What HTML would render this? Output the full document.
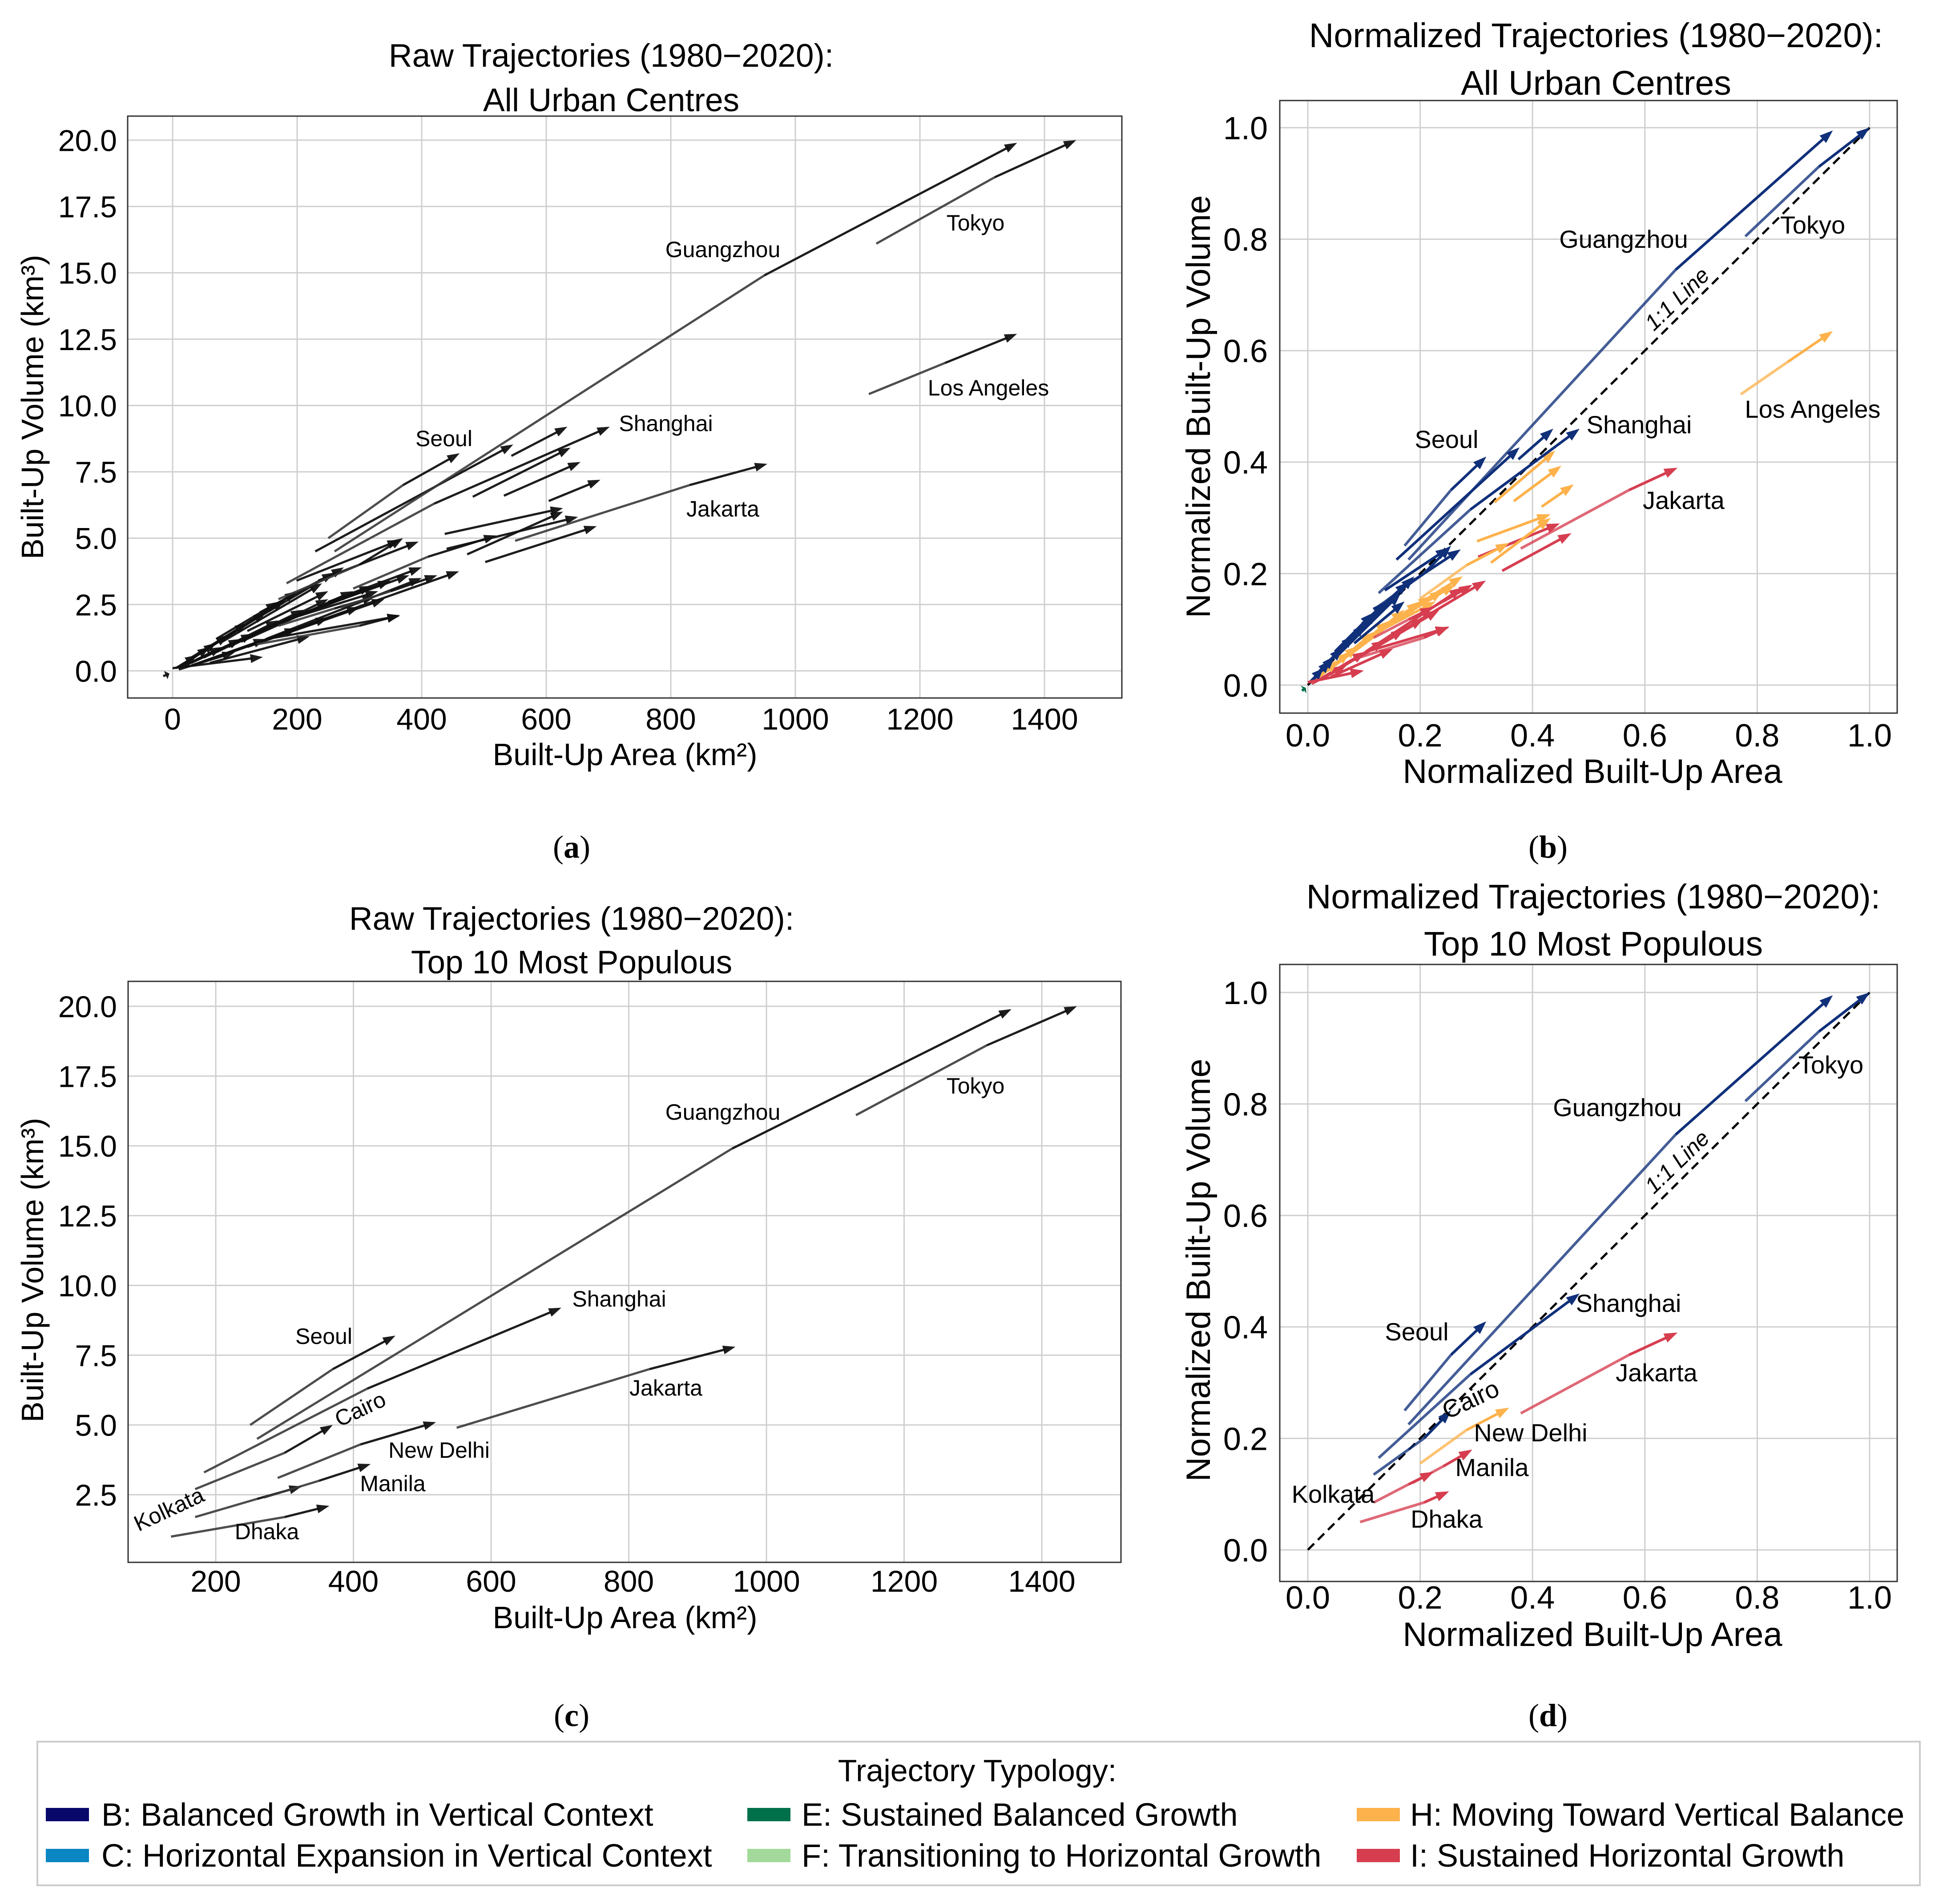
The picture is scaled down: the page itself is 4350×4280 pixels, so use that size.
<!DOCTYPE html>
<html><head><meta charset="utf-8">
<style>
html,body{margin:0;padding:0;background:#fff;}
svg{display:block;font-family:"Liberation Sans",Arial,sans-serif;}
</style></head>
<body>
<svg id="fig" width="4350" height="4280" viewBox="0 0 4350 4280" xmlns="http://www.w3.org/2000/svg">
<rect width="4350" height="4280" fill="#fff"/>
<g id="pa"></g>
<g id="pb"></g>
<g id="pc"></g>
<g id="pd"></g>
<g font-family="Liberation Serif, serif" font-size="72" text-anchor="middle">
<text x="1285" y="1928">(<tspan font-weight="bold">a</tspan>)</text>
<text x="3480" y="1928">(<tspan font-weight="bold">b</tspan>)</text>
<text x="1285" y="3880">(<tspan font-weight="bold">c</tspan>)</text>
<text x="3480" y="3880">(<tspan font-weight="bold">d</tspan>)</text>
</g>
<g>
<rect x="84" y="3915" width="4232" height="323" fill="#fff" stroke="#cccccc" stroke-width="4"/>
<text x="2197" y="4004" font-size="70" text-anchor="middle">Trajectory Typology:</text>
<g><rect x="103" y="4064" width="97" height="30" fill="#08086b"/><text x="228" y="4104" font-size="72">B: Balanced Growth in Vertical Context</text></g>
<g><rect x="103" y="4156" width="97" height="30" fill="#0a86c2"/><text x="228" y="4196" font-size="72">C: Horizontal Expansion in Vertical Context</text></g>
<g><rect x="1680" y="4064" width="97" height="30" fill="#00704a"/><text x="1802" y="4104" font-size="72">E: Sustained Balanced Growth</text></g>
<g><rect x="1680" y="4156" width="97" height="30" fill="#a3d99a"/><text x="1802" y="4196" font-size="72">F: Transitioning to Horizontal Growth</text></g>
<g><rect x="3050" y="4064" width="97" height="30" fill="#fdb24c"/><text x="3170" y="4104" font-size="72">H: Moving Toward Vertical Balance</text></g>
<g><rect x="3050" y="4156" width="97" height="30" fill="#d63e50"/><text x="3170" y="4196" font-size="72">I: Sustained Horizontal Growth</text></g>
</g>
</svg>
<script>
// ===== Data: all urban centres (area km², volume km³) =====
const allNames = ["Guangzhou","Tokyo","Seoul","Shanghai","Jakarta","Los Angeles","Cairo","New Delhi","Manila","Kolkata","Dhaka",
 "u1","u2","u3","u4","u5","u6","u7","u8","u9","u10","u11","u12","u13",
 "b1","b2","b3","b4","b5","b6","b7","b8","b9","b10","b11","b12","b13",
 "h1","h2","h3","h4","h5","h6","h7","h8","h9","h10","h11","h12",
 "i1","i2","i3","i4","i5","i6","i7","i8","i9","e1"];
const allCat = ["B","B","B","B","I","H","B","H","I","I","I",
 "B","B","H","H","H","H","H","I","B","B","I","I","I",
 "B","B","B","B","B","B","B","B","B","B","B","B","B",
 "H","H","H","H","H","H","H","H","H","H","H","H",
 "I","I","I","I","I","I","I","I","I","E"];
const startArea = [260,1130,250,183,550,1118,170,290,270,170,135,
 229,544,482,532,604,437,473,502,199,234,151,0,440,
 10,20,30,40,50,60,80,100,120,5,15,70,140,
 10,30,50,70,90,110,130,150,200,250,180,20,
 10,30,50,70,90,120,150,200,60,-15];
const startVol = [4.5,16.1,5.0,3.3,4.9,10.43,2.7,3.1,2.4,1.7,1.0,
 4.5,8.1,6.56,6.6,6.4,5.16,4.39,4.1,3.4,3.4,1.2,0.1,4.6,
 0.15,0.3,0.5,0.6,0.75,0.9,1.1,1.5,1.5,0.1,0.2,1.2,2.2,
 0.1,0.3,0.5,0.7,0.9,1.1,1.4,1.6,2.1,2.6,1.9,0.2,
 0.05,0.2,0.35,0.5,0.7,0.9,1.2,1.6,0.3,-0.2];
const midArea = [950,1320,370,420,830,1240,300,410,350,260,300,
 null,null,null,null,null,null,null,null,null,null,null,null,null,
 null,null,null,null,null,null,null,null,null,null,null,null,null,
 null,null,null,null,null,null,null,null,null,null,null,null,
 null,null,null,null,null,null,null,null,null,null];
const midVol = [14.9,18.6,7.0,6.3,7.0,11.6,4.0,4.3,3.0,2.35,1.7,
 null,null,null,null,null,null,null,null,null,null,null,null,null,
 null,null,null,null,null,null,null,null,null,null,null,null,null,
 null,null,null,null,null,null,null,null,null,null,null,null,
 null,null,null,null,null,null,null,null,null,null];
const endArea = [1356,1451,461,702,955,1356,370,520,425,325,365,
 547,634,639,655,687,627,627,681,365,395,365,145,651,
 60,90,120,150,180,200,240,275,250,40,70,170,260,
 80,130,170,210,250,290,320,350,380,400,330,110,
 100,150,200,250,300,340,400,460,220,-5];
const endVol = [19.9,20.0,8.2,9.2,7.8,12.7,5.0,5.1,3.6,2.8,2.1,
 8.53,9.2,8.41,7.87,7.2,6.13,6.0,5.45,4.93,4.87,2.07,0.52,5.8,
 0.9,1.35,1.8,2.2,2.65,3.0,3.3,3.9,3.0,0.6,1.05,2.6,3.7,
 0.9,1.4,1.9,2.3,2.7,3.0,3.2,3.4,3.6,3.9,3.0,1.2,
 0.7,1.2,1.6,2.0,2.4,2.7,3.5,3.75,1.3,-0.1];
const maxArea = 1451, maxVol = 20.0;
const top10 = [0,1,2,3,4,6,7,8,9,10];

const xTicksA = [0,200,400,600,800,1000,1200,1400];
const yTicksA = [0,2.5,5,7.5,10,12.5,15,17.5,20];
const xTicksC = [200,400,600,800,1000,1200,1400];
const yTicksC = [2.5,5,7.5,10,12.5,15,17.5,20];
const normTicks = [0,0.2,0.4,0.6,0.8,1.0];

const catColor = {B:"#10307a",C:"#0a86c2",E:"#00704a",F:"#a3d99a",H:"#fdb24c",I:"#d63e50"};
const NS="http://www.w3.org/2000/svg";
function mk(tag, attrs, parent){const e=document.createElementNS(NS,tag);for(const k in attrs)e.setAttribute(k,attrs[k]);if(parent)parent.appendChild(e);return e;}

const A={x:v=>388+v*1.4, y:v=>1508-v*59.65, f:[287,261,2522,1569]};
const B={x:v=>2940+v*1263, y:v=>1540-v*1253, f:[2877,226,4265,1603]};
const C={x:v=>485+(v-200)*1.5475, y:v=>3360-(v-2.5)*62.74, f:[288,2206,2520,3512]};
const D={x:v=>2940+v*1263, y:v=>3484-v*1253, f:[2877,2168,4265,3555]};

function axes(g, ax, xt, yt, fx, fy, fs, yRight, xBase){
  const [l,t,r,b]=ax.f;
  xt.forEach(v=>{const X=ax.x(v);
    const gl=mk("line",{x1:X,x2:X,y1:t,y2:b,stroke:"#cfcfcf","stroke-width":3},g);
    
    
    const tx=mk("text",{x:X,y:xBase,"font-size":fs,"text-anchor":"middle"},g);tx.textContent=fx(v);
    
    
  });
  yt.forEach(v=>{const Y=ax.y(v);
    const gl=mk("line",{x1:l,x2:r,y1:Y,y2:Y,stroke:"#cfcfcf","stroke-width":3},g);
    
    
    const tx=mk("text",{x:yRight,y:Y+fs*0.36,"font-size":fs,"text-anchor":"end"},g);tx.textContent=fy(v);
    
    
  });
}
function frame(g, ax){const [l,t,r,b]=ax.f;
  const fr=mk("rect",{x:l,y:t,width:r-l,height:b-t,fill:"none",stroke:"#333","stroke-width":3},g);
  
  
}
function text(g, x, y, s, fs, name, extra){
  const t=mk("text",Object.assign({x:x,y:y,"font-size":fs,"text-anchor":"middle"},extra||{}),g);t.textContent=s;
  
  
  return t;
}
function arrow(g, pts, c1, c2, w, L, W, name){
  const grp=mk("g",{},g);
  
  
  const n=pts.length;
  const [ex,ey]=pts[n-1],[px,py]=pts[n-2];
  let dx=ex-px,dy=ey-py;const len=Math.hypot(dx,dy)||1;dx/=len;dy/=len;
  const hl=Math.min(L,len*0.6);
  for(let i=0;i<n-1;i++){
    let [x1,y1]=pts[i],[x2,y2]=pts[i+1];
    if(i===n-2){x2=ex-dx*hl*0.8;y2=ey-dy*hl*0.8;}
    const col=(n>2&&i===0)?c1:c2;
    mk("line",{x1:x1,y1:y1,x2:x2,y2:y2,stroke:col.c,"stroke-opacity":col.o,"stroke-width":w,"stroke-linecap":"butt"},grp);
  }
  const bx=ex-dx*hl,by=ey-dy*hl;
  mk("polygon",{points:`${ex},${ey} ${bx-dy*W},${by+dx*W} ${bx+dy*W},${by-dx*W}`,fill:c2.c,"fill-opacity":c2.o},grp);
}
function drawRaw(g, ax, idx){
  const cg=mk("g",{},g);
  
  
  idx.forEach(i=>{
    const pts=[[ax.x(startArea[i]),ax.y(startVol[i])]];
    if(midArea[i]!==null)pts.push([ax.x(midArea[i]),ax.y(midVol[i])]);
    pts.push([ax.x(endArea[i]),ax.y(endVol[i])]);
    arrow(cg,pts,{c:"#3a3a3a",o:0.9},{c:"#111",o:0.95},5,28,10,"arrow-"+allNames[i].toLowerCase().replace(/ /g,'-'));
  });
}
function drawNorm(g, ax, idx){
  const cg=mk("g",{},g);
  
  
  idx.forEach(i=>{
    const col=catColor[allCat[i]];
    const pts=[[ax.x(startArea[i]/maxArea),ax.y(startVol[i]/maxVol)]];
    if(midArea[i]!==null)pts.push([ax.x(midArea[i]/maxArea),ax.y(midVol[i]/maxVol)]);
    pts.push([ax.x(endArea[i]/maxArea),ax.y(endVol[i]/maxVol)]);
    arrow(cg,pts,{c:col,o:0.78},{c:col,o:1},6,30,11,"arrow-"+allNames[i].toLowerCase().replace(/ /g,'-'));
  });
}
function oneLine(g, ax){
  const l=mk("line",{x1:ax.x(0),y1:ax.y(0),x2:ax.x(1),y2:ax.y(1),stroke:"#000","stroke-width":5,"stroke-dasharray":"20,12"},g);
  
  
}
const f1=v=>v.toFixed(1), f0=v=>String(v);
const allIdx=[];for(let i=allNames.length-1;i>=0;i--)allIdx.push(i);
const topIdx=top10.slice().reverse();

// Panel A
const pa=document.getElementById("pa");
axes(pa,A,xTicksA,yTicksA,f0,f1,68,263,1640);
drawRaw(pa,A,allIdx);frame(pa,A);
text(pa,1374,150,"Raw Trajectories (1980\u22122020):",73,"title-line-1");
text(pa,1374,250,"All Urban Centres",73,"title-line-2");
text(pa,1405,1720,"Built-Up Area (km\u00b2)",70,"x-axis-title");
text(pa,0,0,"Built-Up Volume (km\u00b3)",70,"y-axis-title",{transform:"translate(97,915) rotate(-90)"});
[["Guangzhou",1625,578],["Tokyo",2193,518],["Los Angeles",2222,889],["Shanghai",1497,969],["Seoul",998,1003],["Jakarta",1625,1161]]
 .forEach(d=>text(pa,d[1],d[2],d[0],50,"city-label"));

// Panel B
const pb=document.getElementById("pb");
axes(pb,B,normTicks,normTicks,f1,f1,72,2850,1678);
oneLine(pb,B);drawNorm(pb,B,allIdx);frame(pb,B);
text(pb,3588,106,"Normalized Trajectories (1980\u22122020):",77,"title-line-1");
text(pb,3588,213,"All Urban Centres",77,"title-line-2");
text(pb,3580,1760,"Normalized Built-Up Area",76,"x-axis-title");
text(pb,0,0,"Normalized Built-Up Volume",76,"y-axis-title",{transform:"translate(2720,914) rotate(-90)"});
[["Guangzhou",3650,557],["Tokyo",4075,525],["Los Angeles",4075,939],["Shanghai",3685,974],["Seoul",3252,1007],["Jakarta",3785,1144]]
 .forEach(d=>text(pb,d[1],d[2],d[0],56,"city-label"));
text(pb,0,0,"1:1 Line",50,"one-to-one-label",{transform:"translate(3782,684) rotate(-44)","font-style":"italic"});

// Panel C
const pc=document.getElementById("pc");
axes(pc,C,xTicksC,yTicksC,f0,f1,68,263,3578);
drawRaw(pc,C,topIdx);frame(pc,C);
text(pc,1285,2090,"Raw Trajectories (1980\u22122020):",73,"title-line-1");
text(pc,1285,2188,"Top 10 Most Populous",73,"title-line-2");
text(pc,1405,3660,"Built-Up Area (km\u00b2)",70,"x-axis-title");
text(pc,0,0,"Built-Up Volume (km\u00b3)",70,"y-axis-title",{transform:"translate(97,2855) rotate(-90)"});
[["Tokyo",2193,2458],["Guangzhou",1625,2517],["Shanghai",1392,2937],["Seoul",728,3021],["Jakarta",1497,3137],["New Delhi",987,3277],["Manila",883,3352],["Dhaka",600,3460]]
 .forEach(d=>text(pc,d[1],d[2],d[0],50,"city-label"));
text(pc,0,0,"Cairo",50,"city-label",{transform:"translate(817,3183) rotate(-25)"});
text(pc,0,0,"Kolkata",50,"city-label",{transform:"translate(387,3408) rotate(-25)"});

// Panel D
const pd=document.getElementById("pd");
axes(pd,D,normTicks,normTicks,f1,f1,72,2850,3616);
oneLine(pd,D);drawNorm(pd,D,topIdx);frame(pd,D);
text(pd,3582,2042,"Normalized Trajectories (1980\u22122020):",77,"title-line-1");
text(pd,3582,2148,"Top 10 Most Populous",77,"title-line-2");
text(pd,3580,3700,"Normalized Built-Up Area",76,"x-axis-title");
text(pd,0,0,"Normalized Built-Up Volume",76,"y-axis-title",{transform:"translate(2720,2855) rotate(-90)"});
[["Guangzhou",3636,2509],["Tokyo",4116,2413],["Shanghai",3661,2949],["Seoul",3185,3013],["Jakarta",3724,3105],["New Delhi",3441,3240],["Manila",3354,3318],["Kolkata",2997,3378],["Dhaka",3252,3434]]
 .forEach(d=>text(pd,d[1],d[2],d[0],56,"city-label"));
text(pd,0,0,"Cairo",56,"city-label",{transform:"translate(3314,3163) rotate(-25)"});
text(pd,0,0,"1:1 Line",50,"one-to-one-label",{transform:"translate(3782,2624) rotate(-44)","font-style":"italic"});
</script>
</body></html>
